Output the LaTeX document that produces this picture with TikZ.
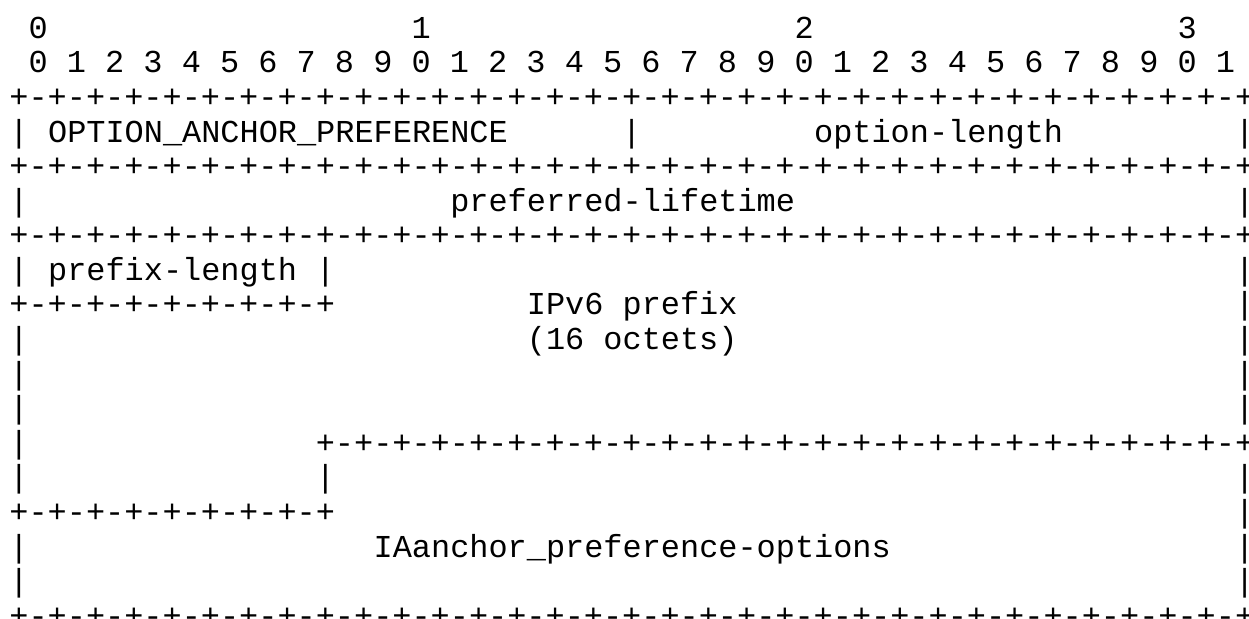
\documentclass[tikz,border=0pt]{standalone}
\usepackage{fontspec}
\usepackage{tikz}
\usetikzlibrary{positioning}
\newfontfamily\asciifont{Liberation Mono}
\tikzset{
  ch/.style={font=\asciifont\fontsize{15.96pt}{17pt}\selectfont, inner sep=0pt, anchor=base},
  fld/.style={ch, anchor=base west},
}

\begin{document}
\begin{tikzpicture}[x=9.575pt, y=17.29pt]
    \useasboundingbox (-0.992,1.108) rectangle (64.23,-16.764);

    % bit numbers
    \foreach \t [count=\k from 0] in {0,1,2,3}{
      \node[ch] (ten\t) at (20*\k+1,0) {\t};
    }
    \foreach \i in {0,...,31}{
      \pgfmathtruncatemacro{\d}{mod(\i,10)}
      \node[ch] (bit\i) at (2*\i+1,-1) {\d};
    }

    % full border rows
    \foreach \r in {3,5,7,18}{
      \foreach \c in {0,2,...,64}{
        \node[ch] (p\r-\c) at (\c,1-\r) {+};
      }
      \foreach \c in {1,3,...,63}{
        \node[ch] (m\r-\c) at (\c,1-\r) {-};
      }
    }

    % short border rows (prefix-length box)
    \foreach \r in {9,15}{
      \foreach \c in {0,2,...,16}{
        \node[ch] (p\r-\c) at (\c,1-\r) {+};
      }
      \foreach \c in {1,3,...,15}{
        \node[ch] (m\r-\c) at (\c,1-\r) {-};
      }
    }
    % border under the prefix
    \foreach \c in {16,18,...,64}{
      \node[ch] (p13-\c) at (\c,-12) {+};
    }
    \foreach \c in {17,19,...,63}{
      \node[ch] (m13-\c) at (\c,-12) {-};
    }

    % side bars
    \foreach \r in {4,6,8,10,11,12,13,14,16,17}{
      \node[ch] (lbar\r) at (0,1-\r) {|};
    }
    \foreach \r in {4,6,8,9,10,11,12,14,15,16,17}{
      \node[ch] (rbar\r) at (64,1-\r) {|};
    }
    \node[ch] (mbar4) at (32,-3) {|};
    \node[ch] (mbar8) at (16,-7) {|};
    \node[ch] (mbar14) at (16,-13) {|};

    % fields
    \node[fld] (optcode) at (1.5,-3) {OPTION\_ANCHOR\_PREFERENCE};
    \node[fld] (optlen) at (41.5,-3) {option-length};
    \node[fld] (preflife) at (22.5,-5) {preferred-lifetime};
    \node[fld] (preflen) at (1.5,-7) {prefix-length};
    \node[fld] (prefix) at (26.5,-8) {IPv6 prefix};
    \node[fld] (octets) at (26.5,-9) {(16 octets)};
    \node[fld] (iaopts) at (18.5,-15) {IAanchor\_preference-options};
\end{tikzpicture}
\end{document}
